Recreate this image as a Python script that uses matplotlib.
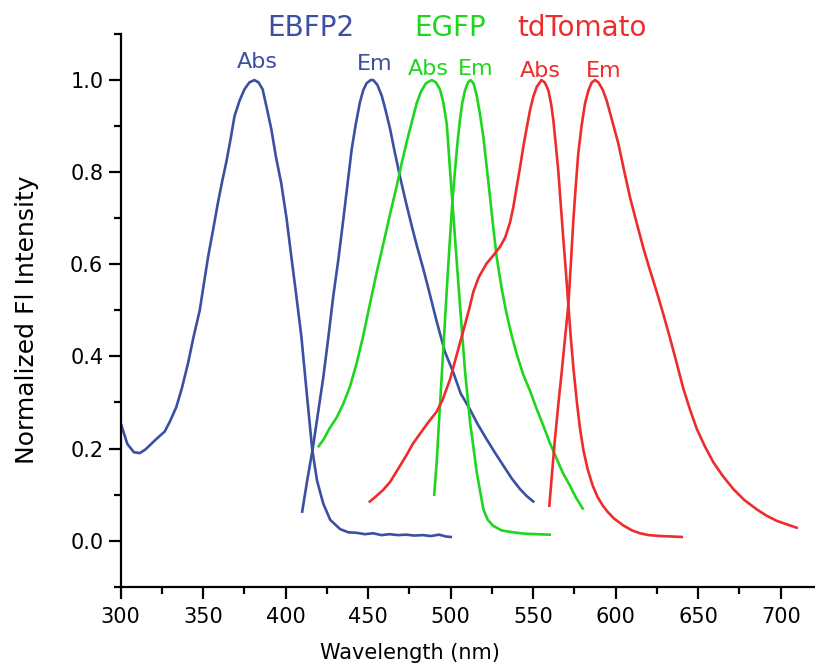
import matplotlib
matplotlib.use("Agg")
import matplotlib.pyplot as plt
from matplotlib.ticker import MultipleLocator, FormatStrFormatter

plt.rcParams["font.family"] = ["DejaVu Sans"]

# EBFP2
ebfp2_abs_x = [300, 304, 308, 311.5, 315, 318.5, 322, 326.7, 330, 333.7, 337, 340.8, 344,
               347.9, 350.5, 353, 356, 359, 361.5, 364, 366.5, 369, 372, 375, 378, 381,
               383.5, 386, 388.5, 391.3, 394, 397.3, 400.5, 403.4, 406.5, 409.5, 412.5,
               416, 419, 422.8, 427, 433, 438, 443, 448, 453, 458, 463, 468, 473, 478,
               483, 488, 493, 497, 500]
ebfp2_abs_y = [0.255, 0.21, 0.192, 0.19, 0.198, 0.21, 0.222, 0.237, 0.26, 0.29, 0.33, 0.385,
               0.44, 0.50, 0.56, 0.617, 0.675, 0.735, 0.78, 0.822, 0.87, 0.922, 0.955, 0.98,
               0.995, 1.0, 0.995, 0.98, 0.94, 0.893, 0.835, 0.776, 0.70, 0.617, 0.53, 0.443,
               0.33, 0.20, 0.13, 0.08, 0.045, 0.025, 0.018, 0.017, 0.014, 0.016, 0.012,
               0.014, 0.012, 0.013, 0.011, 0.012, 0.010, 0.013, 0.009, 0.008]

ebfp2_em_x = [410, 413, 416.4, 419.5, 422.8, 425.8, 428.8, 431.9, 434.9, 437.5, 440, 442.5,
              445, 447, 449, 451.5, 453, 455.5, 458.2, 460.5, 463.2, 466, 469.3, 472.5,
              476.4, 479.5, 483.4, 487, 491.5, 496.5, 501.6, 506, 511.7, 516, 521.8, 527,
              531.9, 537, 542, 546, 550]
ebfp2_em_y = [0.063, 0.13, 0.20, 0.275, 0.355, 0.44, 0.53, 0.61, 0.697, 0.775, 0.85, 0.905,
              0.952, 0.978, 0.993, 1.0, 1.0, 0.99, 0.966, 0.935, 0.895, 0.845, 0.79, 0.74,
              0.683, 0.64, 0.59, 0.54, 0.476, 0.41, 0.365, 0.32, 0.285, 0.255, 0.22, 0.19,
              0.163, 0.135, 0.112, 0.097, 0.085]

# EGFP
egfp_abs_x = [420, 423, 426.8, 431, 434.9, 439, 443, 447, 451.1, 455, 459.2, 463, 467.3,
              470, 473.3, 476.5, 479.4, 482, 485, 488.5, 491, 493.5, 495.5, 497.6, 499.6,
              502.6, 505.6, 508.7, 511.7, 515.8, 519.8, 522.5, 525.8, 531, 537.9, 545,
              552, 560]
egfp_abs_y = [0.205, 0.22, 0.245, 0.268, 0.297, 0.335, 0.385, 0.445, 0.515, 0.58, 0.645,
              0.705, 0.77, 0.815, 0.865, 0.91, 0.95, 0.975, 0.993, 1.0, 0.995, 0.98, 0.952,
              0.905, 0.805, 0.658, 0.512, 0.367, 0.258, 0.148, 0.068, 0.045, 0.032, 0.022,
              0.018, 0.015, 0.014, 0.013]

egfp_em_x = [490, 491.5, 493.5, 495, 496.5, 498, 499.6, 501, 502.6, 504, 505.6, 507, 508.7,
             510.5, 512, 513.8, 515.8, 517.8, 519.8, 521.8, 523.8, 525.8, 527.9, 531,
             533.9, 537, 540, 544, 548.1, 552, 556.1, 560, 564.2, 568, 572.3, 576, 580]
egfp_em_y = [0.10, 0.17, 0.294, 0.385, 0.476, 0.567, 0.658, 0.735, 0.803, 0.86, 0.913, 0.95,
             0.978, 0.995, 1.0, 0.993, 0.966, 0.925, 0.876, 0.812, 0.747, 0.68, 0.615,
             0.545, 0.492, 0.445, 0.405, 0.36, 0.325, 0.287, 0.25, 0.213, 0.178, 0.147,
             0.119, 0.093, 0.07]

# tdTomato
tdt_abs_x = [451, 455, 459, 463.2, 468, 473.3, 477, 481.4, 486, 491.5, 495, 499.6, 503,
             507.6, 511, 513.7, 517, 521.8, 526, 529.9, 533, 535.9, 538, 540, 542, 544,
             546, 548.1, 550, 552.1, 555, 557, 559.2, 561, 562.2, 563.7, 565.2, 566.7,
             568.2, 569.8, 571.3, 572.8, 574.5, 576.5, 578.5, 580.5, 583, 586, 589, 592,
             595, 599, 604.6, 610, 614.7, 620, 627, 634, 640]
tdt_abs_y = [0.085, 0.097, 0.11, 0.127, 0.155, 0.186, 0.21, 0.232, 0.255, 0.28, 0.305, 0.35,
             0.395, 0.455, 0.5, 0.54, 0.572, 0.602, 0.62, 0.638, 0.658, 0.69, 0.725, 0.768,
             0.81, 0.855, 0.895, 0.935, 0.963, 0.985, 1.0, 0.995, 0.978, 0.945, 0.913, 0.86,
             0.803, 0.73, 0.658, 0.585, 0.512, 0.44, 0.37, 0.30, 0.24, 0.195, 0.155, 0.12,
             0.095, 0.077, 0.063, 0.048, 0.033, 0.022, 0.016, 0.012, 0.010, 0.009, 0.008]

tdt_em_x = [559.8, 561.5, 563.2, 565.2, 567.3, 569.3, 571.3, 572.8, 574.3, 575.8, 577.3,
            579.3, 581.4, 583.5, 585.5, 587.5, 589.5, 592, 594.5, 598, 601.6, 605, 608.7,
            612.7, 616.7, 620.7, 624.8, 629, 632.9, 637, 641, 645, 649.1, 654, 659.2, 665,
            671.3, 678, 685.5, 691, 697.6, 704, 709.7]
tdt_em_y = [0.076, 0.15, 0.221, 0.295, 0.367, 0.44, 0.512, 0.60, 0.694, 0.77, 0.84, 0.90,
            0.949, 0.978, 0.995, 1.0, 0.995, 0.98, 0.956, 0.91, 0.862, 0.805, 0.745, 0.69,
            0.636, 0.588, 0.541, 0.49, 0.44, 0.385, 0.33, 0.285, 0.243, 0.205, 0.17, 0.14,
            0.112, 0.088, 0.068, 0.055, 0.043, 0.035, 0.028]

BLUE = "#3b4fa3"
GREEN = "#1fd61f"
RED = "#ee2c2c"

fig = plt.figure(figsize=(8.15, 6.67), dpi=100)
ax = fig.add_axes([0.1481, 0.1204, 0.8503, 0.8286])

lw = 1.9
ax.plot(ebfp2_abs_x, ebfp2_abs_y, color=BLUE, lw=lw)
ax.plot(ebfp2_em_x, ebfp2_em_y, color=BLUE, lw=lw)
ax.plot(egfp_abs_x, egfp_abs_y, color=GREEN, lw=lw)
ax.plot(egfp_em_x, egfp_em_y, color=GREEN, lw=lw)
ax.plot(tdt_abs_x, tdt_abs_y, color=RED, lw=lw)
ax.plot(tdt_em_x, tdt_em_y, color=RED, lw=lw)

# protein names above the plot
big = 20
ax.text(415.5, 1.112, "EBFP2", color=BLUE, fontsize=big, ha="center", va="center", clip_on=False)
ax.text(499.6, 1.112, "EGFP", color=GREEN, fontsize=big, ha="center", va="center", clip_on=False)
ax.text(579.6, 1.112, "tdTomato", color=RED, fontsize=big, ha="center", va="center", clip_on=False)

small = 16
ax.text(382.6, 1.04, "Abs", color=BLUE, fontsize=small, ha="center", va="center")
ax.text(453.8, 1.035, "Em", color=BLUE, fontsize=small, ha="center", va="center")
ax.text(486.2, 1.024, "Abs", color=GREEN, fontsize=small, ha="center", va="center")
ax.text(515.3, 1.024, "Em", color=GREEN, fontsize=small, ha="center", va="center")
ax.text(554.1, 1.02, "Abs", color=RED, fontsize=small, ha="center", va="center")
ax.text(592.9, 1.02, "Em", color=RED, fontsize=small, ha="center", va="center")

ax.set_xlim(300, 720)
ax.set_ylim(-0.1, 1.1)
ax.xaxis.set_major_locator(MultipleLocator(50))
ax.xaxis.set_minor_locator(MultipleLocator(25))
ax.yaxis.set_major_locator(MultipleLocator(0.2))
ax.yaxis.set_minor_locator(MultipleLocator(0.1))
ax.yaxis.set_major_formatter(FormatStrFormatter("%.1f"))

for side in ["top", "right"]:
    ax.spines[side].set_visible(False)
for side in ["left", "bottom"]:
    ax.spines[side].set_linewidth(1.6)

ax.tick_params(which="major", direction="out", length=8.5, width=1.6, labelsize=15, pad=4)
ax.tick_params(which="minor", direction="out", length=5, width=1.6)
ax.tick_params(axis="x", which="major", pad=6)

ax.set_xlabel("Wavelength (nm)", fontsize=15)
ax.xaxis.set_label_coords(0.417, -0.102)
ax.set_ylabel("Normalized Fl Intensity", fontsize=18)
ax.yaxis.set_label_coords(-0.118, 0.483)

fig.savefig("out.png", dpi=100)
